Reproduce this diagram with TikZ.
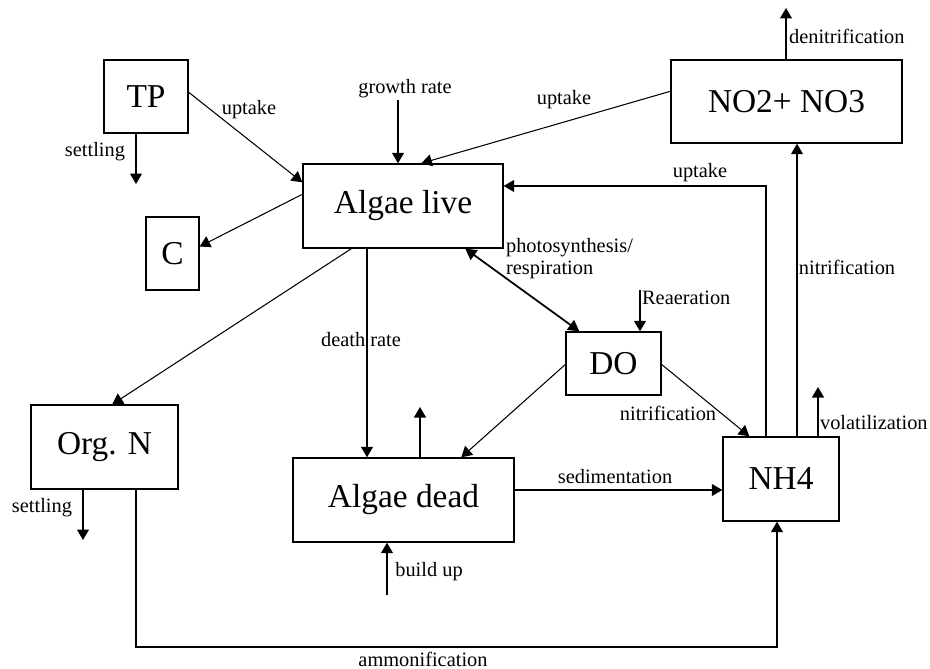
\documentclass[tikz,border=0pt]{standalone}
\usepackage{fontspec}
\setmainfont{Liberation Serif}
\usetikzlibrary{arrows.meta,calc}
\tikzset{
  box/.style={draw, line width=0.8pt, inner sep=0pt, font=\fontsize{19}{22}\selectfont},
  flow/.style={-{Triangle[length=2.1mm,width=2.4mm]}, line width=0.6pt},
  flowtw/.style={{Triangle[length=2.2mm,width=2.4mm]}-{Triangle[length=2.2mm,width=2.4mm]}, line width=1pt},
  lab/.style={font=\fontsize{11.6}{12.5}\selectfont, inner sep=1pt}
}

\begin{document}
\begin{tikzpicture}[x=0.02cm,y=-0.02cm]
  \useasboundingbox[fill=white] (0,0) rectangle (930,669);

  % compartments
  \node[box, minimum width=1.68cm, minimum height=1.46cm] (tp) at (146,96.5) {TP};
  \node[box, minimum width=1.06cm, minimum height=1.46cm] (carb) at (172.5,253.5) {C};
  \node[box, minimum width=4cm, minimum height=1.68cm] (alive) at (403,206) {Algae live};
  \node[box, minimum width=4.62cm, minimum height=1.66cm] (nox) at (786.5,101.5) {NO2+ NO3};
  \node[box, minimum width=1.9cm, minimum height=1.26cm] (dox) at (613.5,363.5) {DO};
  \node[box, minimum width=2.32cm, minimum height=1.68cm] (nh) at (781,479) {NH4};
  \node[box, minimum width=4.42cm, minimum height=1.68cm] (adead) at (403.5,500) {Algae dead};
  \node[box, minimum width=2.94cm, minimum height=1.68cm] (orgn) at (104.5,447) {Org. N};

  % free ends
  \coordinate (tpset) at (136,184);
  \coordinate (grow) at (398,100);
  \coordinate (upk) at (766,186);
  \coordinate (nitr) at (797,0);
  \coordinate (denit) at (786,8);
  \coordinate (reaer) at (640,290);
  \coordinate (volat) at (818,387);
  \coordinate (dth) at (367,0);
  \coordinate (dstub) at (420,407);
  \coordinate (bup) at (387,595);
  \coordinate (sed) at (600,490);
  \coordinate (orgset) at (83,540);
  \coordinate (ammL) at (136,647);
  \coordinate (ammR) at (777,647);

  % fluxes
  \draw[flow] (tp.south -| tpset) -- (tpset);
  \draw[flow] ($(tp.north east)+(0,33)$) -- ($(alive.north west)+(0,19)$);
  \draw[flow] ($(alive.north west)+(0,31)$) -- ($(carb.east)+(0,-7)$);
  \draw[flow] (grow) -- (grow |- alive.north);
  \draw[flow] ($(nox.north west)+(0,32)$) -- ($(alive.north west)+(119,0)$);
  \draw[flow] (nh.north -| upk) -- (upk) -- (upk -| alive.east);
  \draw[flow] (nh.north -| nitr) -- (nox.south -| nitr);
  \draw[flow] (nox.north -| denit) -- (denit);
  \draw[flowtw] ($(alive.south west)+(163,0)$) -- ($(dox.north west)+(14,0)$);
  \draw[flow] (reaer) -- (reaer |- dox.north);
  \draw[flow] ($(dox.east)+(0,1)$) -- ($(nh.north west)+(27,0)$);
  \draw[flow] ($(dox.west)+(0,1)$) -- ($(adead.north west)+(169,0)$);
  \draw[flow] (nh.north -| volat) -- (volat);
  \draw[flow] (alive.south -| dth) -- (adead.north -| dth);
  \draw[flow] (adead.north -| dstub) -- (dstub);
  \draw[flow] (bup) -- (bup |- adead.south);
  \draw[flow] (adead.east |- sed) -- (nh.west |- sed);
  \draw[flow] ($(alive.south west)+(49,0)$) -- ($(orgn.north west)+(82,0)$);
  \draw[flow] (orgn.south -| orgset) -- (orgset);
  \draw[flow] (orgn.south -| ammL) -- (ammL) -- (ammR) -- (nh.south -| ammR);

  % labels
  \node[lab] (lset) at (95,152) {settling};
  \node[lab] (lupa) at (249,110) {uptake};
  \node[lab] (lgrow) at (405,89) {growth rate};
  \node[lab] (lupb) at (564,100) {uptake};
  \node[lab] (lupc) at (700,173) {uptake};
  \node[lab, anchor=west] (ldenit) at (787,36) {denitrification};
  \node[lab] (lnitra) at (847,267) {nitrification};
  \node[lab, anchor=west, align=left] (lphot) at (504,259) {photosynthesis/\\respiration};
  \node[lab, anchor=west] (lreaer) at (640,298) {Reaeration};
  \node[lab] (lnitrb) at (668,413) {nitrification};
  \node[lab, anchor=west] (lvolat) at (818,423) {volatilization};
  \node[lab] (ldth) at (361,340) {death rate};
  \node[lab] (lsed) at (615,477) {sedimentation};
  \node[lab] (lbup) at (429,572) {build up};
  \node[lab] (lorgset) at (42,508) {settling};
  \node[lab] (lamm) at (423,659) {ammonification};
\end{tikzpicture}
\end{document}
